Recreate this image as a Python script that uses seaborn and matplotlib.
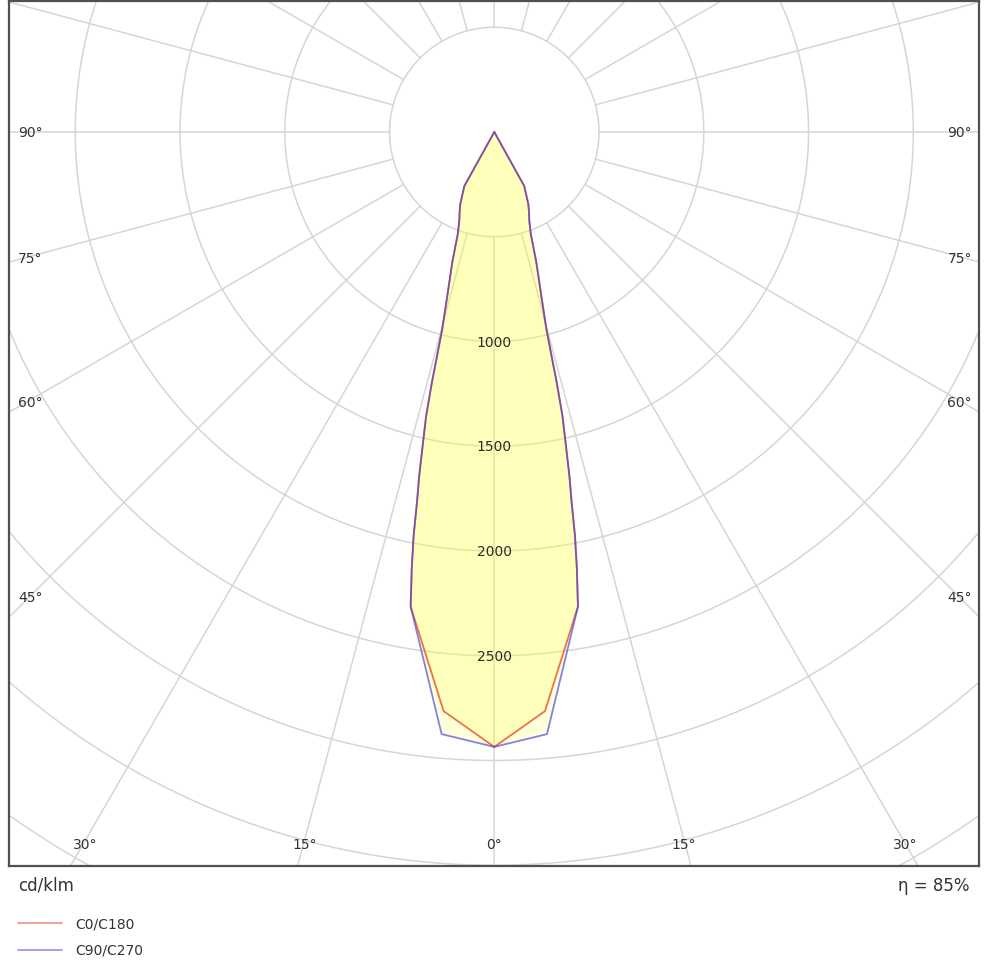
import numpy as np
import pandas as pd
import matplotlib
matplotlib.use("Agg")
import matplotlib.pyplot as plt
from matplotlib.lines import Line2D
import seaborn as sns

# ---------------- data ----------------
gamma_deg = [0, 5, 10, 10.7, 11.3, 11.8, 12.3, 12.8, 13.5, 14.0, 14.3, 14.8,
             16.0, 17.9, 19.7, 21.5, 23.5, 25.3, 27.0, 29.0, 30.0]
i_c0_c180 = [2935, 2775, 2300, 2123, 1966, 1804, 1685, 1552, 1394, 1230, 1117, 973,
             814, 652, 517, 456, 415, 380, 335, 295, 0]
i_c90_c270 = [2935, 2885, 2300, 2123, 1966, 1804, 1685, 1552, 1394, 1230, 1117, 973,
              814, 652, 517, 456, 415, 380, 335, 295, 0]
plane_names = ["C0/C180", "C90/C270"]
ring_values = [500, 1000, 1500, 2000, 2500, 3000, 3500, 4000, 4500]
ring_labels = [1000, 1500, 2000, 2500]
side_angle_labels = [90, 75, 60, 45]
bottom_angle_labels = [30, 15, 0, 15, 30]
unit_text = "cd/klm"
eta_text = "η = 85%"

# ---------------- layout ----------------
W, H = 1000, 962
sns.set_theme(style="white")
plt.rcParams["font.family"] = ["DejaVu Sans"]
fig = plt.figure(figsize=(W / 100, H / 100), dpi=100)
fig.patch.set_facecolor("white")

px_per_cd = 0.2095
cx, cy = 494.3, 133.0
box_l, box_r, box_t, box_b = 9, 979, 2, 867
ax = fig.add_axes([box_l / W, 1 - box_b / H, (box_r - box_l) / W, (box_b - box_t) / H])
ax.set_xlim((box_l - cx) / px_per_cd, (box_r - cx) / px_per_cd)
ax.set_ylim(-(box_b - cy) / px_per_cd, (cy - box_t) / px_per_cd)
ax.set_facecolor("white")
ax.set_xticks([])
ax.set_yticks([])
for s in ax.spines.values():
    s.set_color("#505050")
    s.set_linewidth(1.6)

grid_c = "#d6d6d6"
# rings
t = np.linspace(0, 2 * np.pi, 721)
for r in ring_values:
    ax.plot(r * np.cos(t), r * np.sin(t), color=grid_c, lw=1.1, zorder=1)
# radial lines every 15 degrees starting at the inner ring
for a in range(0, 360, 15):
    g = np.radians(a)
    ax.plot([ring_values[0] * np.sin(g), 6000 * np.sin(g)],
            [-ring_values[0] * np.cos(g), -6000 * np.cos(g)],
            color=grid_c, lw=1.1, zorder=1)

# curves
def outline(vals):
    g = np.radians(gamma_deg)
    v = np.asarray(vals, dtype=float)
    xr = v * np.sin(g)
    yv = -v * np.cos(g)
    x = np.concatenate([-xr[::-1], xr[1:]])
    y = np.concatenate([yv[::-1], yv[1:]])
    return x, y

frames = []
for name, vals in zip(plane_names, [i_c0_c180, i_c90_c270]):
    x, y = outline(vals)
    ax.fill(x, y, color="#ffff50", alpha=0.21, lw=0, zorder=2)
    frames.append(pd.DataFrame({"x": x, "y": y, "plane": name}))

palette = {"C0/C180": "#ee6040", "C90/C270": "#4040d8"}
# red first, blue blended on top so the shared outline reads purple
sns.lineplot(data=frames[0], x="x", y="y", color=palette["C0/C180"], sort=False,
             estimator=None, lw=1.3, alpha=0.9, ax=ax, zorder=3)
sns.lineplot(data=frames[1], x="x", y="y", color=palette["C90/C270"], sort=False,
             estimator=None, lw=1.3, alpha=0.65, ax=ax, zorder=3)
ax.set_xlabel("")
ax.set_ylabel("")

# ring labels
for v in ring_labels:
    ax.text(0, -v, str(v), ha="center", va="center", fontsize=10, color="#2a2a2a", zorder=4)

# angle labels (figure pixel positions)
txt_c = "#333333"
side_y = [133, 259, 403, 598]
for lab, py in zip(side_angle_labels, side_y):
    fig.text(18 / W, 1 - py / H, f"{lab}°", ha="left", va="center", fontsize=10, color=txt_c)
    fig.text(972 / W, 1 - py / H, f"{lab}°", ha="right", va="center", fontsize=10, color=txt_c)
bottom_x = [85, 305, 494, 684, 905]
for lab, px in zip(bottom_angle_labels, bottom_x):
    fig.text(px / W, 1 - 845 / H, f"{lab}°", ha="center", va="center", fontsize=10, color=txt_c)

fig.text(18 / W, 1 - 886 / H, unit_text, ha="left", va="center", fontsize=12, color=txt_c)
fig.text(969 / W, 1 - 886 / H, eta_text, ha="right", va="center", fontsize=12, color=txt_c)

# legend
legend_cols = {"C0/C180": "#f29a90", "C90/C270": "#9a9aee"}
for name, py in zip(plane_names, [924, 951]):
    fig.add_artist(Line2D([18 / W, 62 / W], [1 - py / H, 1 - py / H],
                          color=legend_cols[name], lw=1.3, transform=fig.transFigure))
    fig.text(75 / W, 1 - py / H, name, ha="left", va="center", fontsize=10, color=txt_c)

fig.savefig("out.png", dpi=100)
